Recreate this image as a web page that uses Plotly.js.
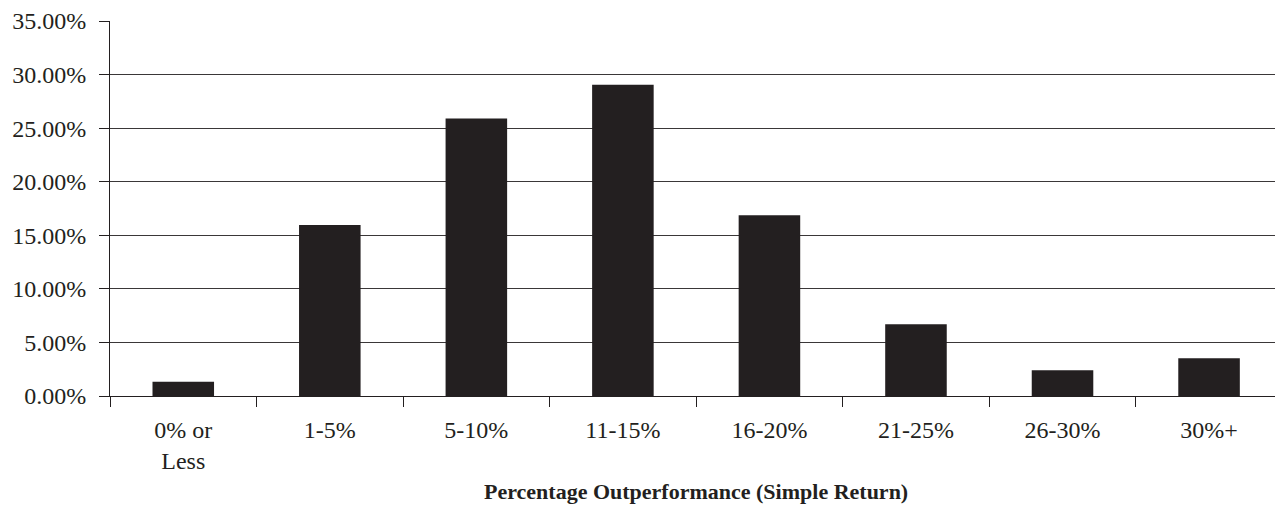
<!DOCTYPE html>
<html>
<head>
<meta charset="utf-8">
<script src="https://cdn.plot.ly/plotly-3.0.1.min.js"></script>
<style>html,body{margin:0;padding:0;background:#fff;}#chart{width:1275px;height:523px;}</style>
</head>
<body>
<div id="chart"></div>
<script>
const categories = ["0% or<br>Less", "1-5%", "5-10%", "11-15%", "16-20%", "21-25%", "26-30%", "30%+"];
const shares = [0.0133, 0.1595, 0.259, 0.2905, 0.1686, 0.0669, 0.024, 0.0352];
const xTitle = "Percentage Outperformance (Simple Return)";

const ink = "#231f20";
const font = {family: "Liberation Serif, Times New Roman, serif", size: 24, color: ink};

Plotly.newPlot("chart", [{
  type: "bar",
  x: categories,
  y: shares,
  width: 0.42,
  marker: {color: ink, line: {width: 0}},
  hoverinfo: "skip"
}], {
  width: 1275, height: 523,
  margin: {l: 110, r: 0, t: 21, b: 127},
  paper_bgcolor: "#fff", plot_bgcolor: "#fff",
  font: font,
  showlegend: false,
  xaxis: {
    type: "category",
    range: [-0.5, 7.45],
    showline: true, linecolor: ink, linewidth: 1,
    ticks: "outside", ticklen: 10, tickcolor: ink, tickwidth: 1,
    tickson: "boundaries",
    ticklabelstandoff: 12,
    showgrid: false, zeroline: false,
    tickfont: font,
    automargin: false
  },
  yaxis: {
    range: [0, 0.35], dtick: 0.05, tickformat: ".2%",
    showline: true, linecolor: ink, linewidth: 1,
    ticks: "outside", ticklen: 10, tickcolor: ink, tickwidth: 1,
    ticklabelstandoff: 8,
    showgrid: true, gridcolor: "#3a3738", gridwidth: 1,
    zeroline: false,
    tickfont: font,
    automargin: false
  },
  annotations: [{
    text: xTitle,
    xref: "x", x: (categories.length - 1) / 2,
    yref: "paper", y: 0, yshift: -95,
    xanchor: "center", yanchor: "middle",
    showarrow: false,
    font: {family: "Liberation Serif, Times New Roman, serif", size: 22, color: ink, weight: "bold"}
  }]
}, {displayModeBar: false, staticPlot: true});
</script>
</body>
</html>
